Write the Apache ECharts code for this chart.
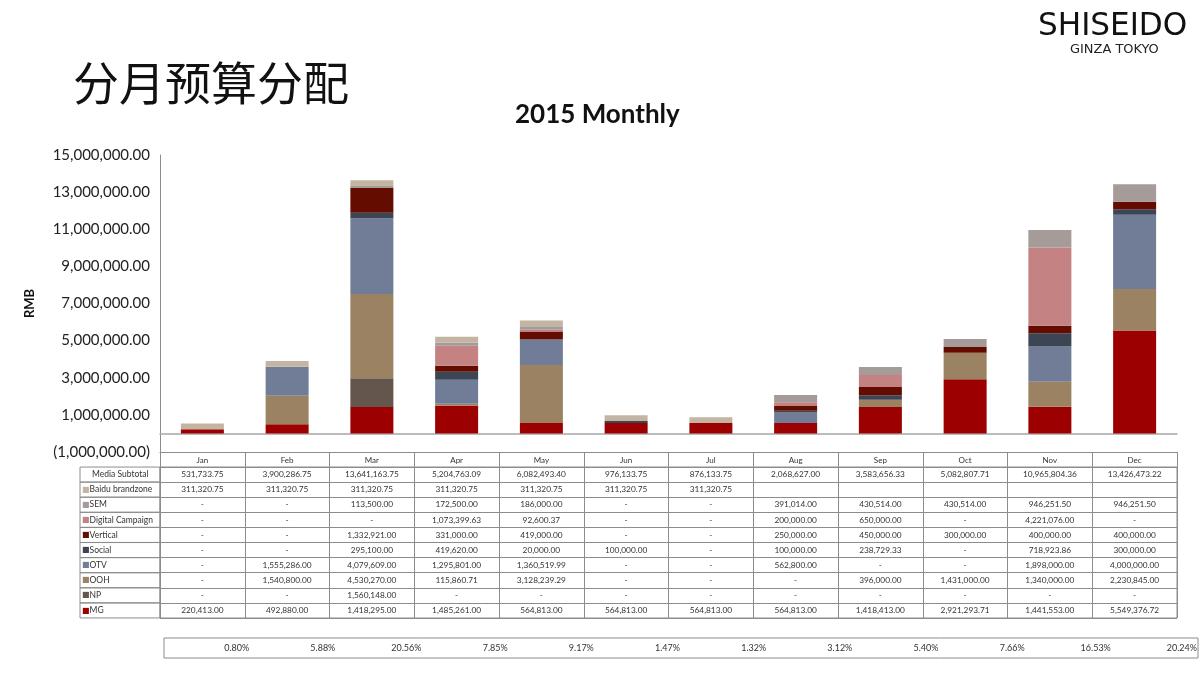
<!DOCTYPE html>
<html><head><meta charset="utf-8">
<script src="https://cdn.jsdelivr.net/npm/echarts@6/dist/echarts.min.js"></script>
<style>html,body{margin:0;padding:0;background:#fff}#c{width:1200px;height:675px}</style>
</head><body><div id="c"></div>
<script>
// ---------- data ----------
const months = ['Jan','Feb','Mar','Apr','May','Jun','Jul','Aug','Sep','Oct','Nov','Dec'];
const MG       = [220413.00, 492880.00, 1418295.00, 1485261.00, 564813.00, 564813.00, 564813.00, 564813.00, 1418413.00, 2921293.71, 1441553.00, 5549376.72];
const NP       = [0, 0, 1560148.00, 0, 0, 0, 0, 0, 0, 0, 0, 0];
const OOH      = [0, 1540800.00, 4530270.00, 115860.71, 3128239.29, 0, 0, 0, 396000.00, 1431000.00, 1340000.00, 2230845.00];
const OTV      = [0, 1555286.00, 4079609.00, 1295801.00, 1360519.99, 0, 0, 562800.00, 0, 0, 1898000.00, 4000000.00];
const Social   = [0, 0, 295100.00, 419620.00, 20000.00, 100000.00, 0, 100000.00, 238729.33, 0, 718923.86, 300000.00];
const Vertical = [0, 0, 1332921.00, 331000.00, 419000.00, 0, 0, 250000.00, 450000.00, 300000.00, 400000.00, 400000.00];
const Digital  = [0, 0, 0, 1073399.63, 92600.37, 0, 0, 200000.00, 650000.00, 0, 4221076.00, 0];
const SEM      = [0, 0, 113500.00, 172500.00, 186000.00, 0, 0, 391014.00, 430514.00, 430514.00, 946251.50, 946251.50];
const Baidu    = [311320.75, 311320.75, 311320.75, 311320.75, 311320.75, 311320.75, 311320.75, null, null, null, null, null];
const subtotal = [531733.75, 3900286.75, 13641163.75, 5204763.09, 6082493.40, 976133.75, 876133.75, 2068627.00, 3583656.33, 5082807.71, 10965804.36, 13426473.22];
const share    = ['0.80%','5.88%','20.56%','7.85%','9.17%','1.47%','1.32%','3.12%','5.40%','7.66%','16.53%','20.24%'];

// bottom-to-top stacking order
const seriesNames  = ['MG','NP','OOH','OTV','Social','Vertical','Digital Campaign','SEM','Baidu brandzone'];
const seriesValues = [MG, NP, OOH, OTV, Social, Vertical, Digital, SEM, Baidu];
const seriesColors = ['#9c0000','#64554d','#9a8262','#717d96','#3b4553','#650c00','#c48283','#a59b98','#c4b5a2'];

// table rows top-to-bottom
const tableRows = ['Media Subtotal','Baidu brandzone','SEM','Digital Campaign','Vertical','Social','OTV','OOH','NP','MG'];

// ---------- helpers ----------
const fmt = v => v.toLocaleString('en-US',{minimumFractionDigits:2, maximumFractionDigits:2});
const cellStr = v => v === null ? '' : (v === 0 ? '-' : fmt(v));
const FONT = 'Lato, "Open Sans", "Noto Sans", sans-serif';
const gridColor = '#8c8c8c';

const cellData = [], cellText = [];
tableRows.forEach((r, ri) => {
  const vals = ri === 0 ? subtotal : seriesValues[seriesNames.indexOf(r)];
  months.forEach((m, mi) => { cellData.push([mi, ri]); cellText.push(cellStr(vals[mi])); });
});
const pctData = months.map((m, i) => [i, 0]);

const rich = { t:{fontSize:8.5, color:'#333', fontFamily:FONT}, m:{fontSize:8.5, color:'#333', fontFamily:FONT, padding:[0,0,0,10]} };
seriesColors.forEach((c, i) => { rich['s'+i] = {fontSize:8, color:c, fontFamily:'DejaVu Sans'}; });

const barSeries = seriesNames.map((n, i) => ({
  name: n, type: 'bar', stack: 'total', xAxisIndex: 0, yAxisIndex: 0,
  barWidth: 43, data: seriesValues[i], itemStyle: {color: seriesColors[i]}
}));

const option = {
  animation: false,
  backgroundColor: '#fff',
  title: [
    {text:'分月预算分配', left:68, top:55, textStyle:{fontFamily:'"Noto Sans CJK SC", sans-serif', fontSize:46, fontWeight:'normal', color:'#111'}},
    {text:'2015 Monthly', left:510, top:97, textStyle:{fontFamily:FONT, fontSize:26, fontWeight:'bold', color:'#111'}}
  ],
  graphic: [
    {type:'text', left:1038, top:11, scaleX:1.08, style:{text:'SHISEIDO', font:'200 32px "DejaVu Sans Condensed", "DejaVu Sans", sans-serif', fill:'#111'}},
    {type:'text', left:1070, top:44, scaleX:1.2, style:{text:'GINZA TOKYO', font:'12px "DejaVu Sans Condensed", "DejaVu Sans", sans-serif', fill:'#222'}}
  ],
  grid: [
    {left:160, right:23, top:155, bottom:223},
    {left:160, right:23, top:467, bottom:57, show:true, borderColor:gridColor, borderWidth:1},
    {left:164, right:2, top:638, height:20, show:true, borderColor:gridColor, borderWidth:1}
  ],
  xAxis: [
    {gridIndex:0, type:'category', data:months, position:'bottom',
     axisLine:{onZero:true, lineStyle:{color:'#a6a6a6', width:1.5}}, axisTick:{show:false}, axisLabel:{show:false}},
    {gridIndex:0, type:'category', data:months, position:'bottom',
     axisLine:{onZero:false, lineStyle:{color:gridColor, width:1}},
     axisTick:{show:true, interval:0, length:15, inside:false, lineStyle:{color:gridColor}},
     axisLabel:{interval:0, margin:4, fontSize:8, color:'#333', fontFamily:FONT}},
    {gridIndex:1, type:'category', data:months, axisLine:{show:false}, axisTick:{show:false}, axisLabel:{show:false},
     splitLine:{show:true, interval:0, lineStyle:{color:gridColor, width:1}}},
    {gridIndex:2, type:'category', data:months, show:false}
  ],
  yAxis: [
    {gridIndex:0, type:'value', min:-1000000, max:15000000, interval:2000000,
     name:'RMB', nameLocation:'middle', nameGap:124, nameRotate:90,
     nameTextStyle:{fontFamily:FONT, fontSize:13, fontWeight:'bold', color:'#111'},
     axisLine:{show:true, lineStyle:{color:'#8c8c8c', width:1}}, axisTick:{show:false}, splitLine:{show:false},
     axisLabel:{margin:10, fontSize:15, color:'#222', fontFamily:FONT,
       formatter: v => v < 0 ? '(' + fmt(-v) + ')' : fmt(v)}},
    {gridIndex:1, type:'category', data:tableRows, inverse:true,
     axisLine:{show:false}, axisTick:{show:false},
     splitLine:{show:true, interval:0, lineStyle:{color:gridColor, width:1}},
     axisLabel:{interval:0, align:'left', margin:80, width:78, height:15, lineHeight:15, padding:[0,0,0,2],
       borderColor:gridColor, borderWidth:1, verticalAlign:'middle', rich:rich,
       formatter:(v, i) => v === 'Media Subtotal' ? '{m|' + v + '}' : '{s' + seriesNames.indexOf(v) + '|■}{t|' + v + '}'}},
    {gridIndex:2, type:'category', data:['share'], show:false}
  ],
  series: barSeries.concat([
    {type:'custom', xAxisIndex:2, yAxisIndex:1, data:cellData, silent:true,
     renderItem:(params, api) => {
       const p = api.coord([api.value(0), api.value(1)]);
       return {type:'text', x:p[0], y:p[1], style:{text:cellText[params.dataIndex], align:'center', verticalAlign:'middle',
         fontSize:8.3, fontFamily:FONT, fill:'#333'}};
     }},
    {type:'custom', xAxisIndex:3, yAxisIndex:2, data:pctData, silent:true,
     renderItem:(params, api) => {
       const p = api.coord([api.value(0), api.value(1)]);
       const bw = api.size([1, 0])[0];
       return {type:'text', x:p[0] + bw/2 - 1, y:p[1], style:{text:share[params.dataIndex], align:'right', verticalAlign:'middle',
         fontSize:9, fontFamily:FONT, fill:'#333'}};
     }}
  ])
};
const chart = echarts.init(document.getElementById('c'));
chart.setOption(option);
</script>
</body></html>
